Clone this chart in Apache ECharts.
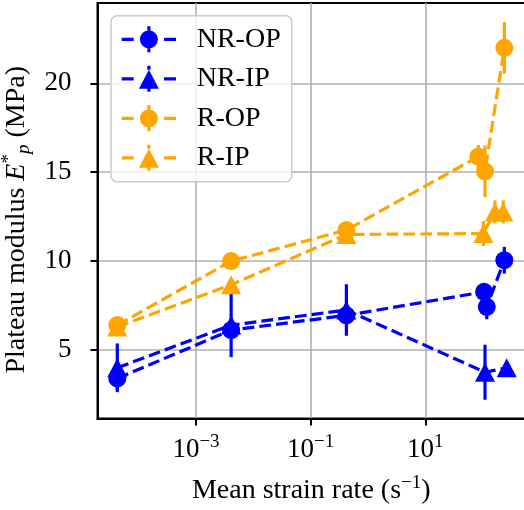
<!DOCTYPE html>
<html><head><meta charset="utf-8">
<script src="https://cdn.jsdelivr.net/npm/echarts@6/dist/echarts.min.js"></script>
<style>html,body{margin:0;padding:0;background:#fff}#chart{width:524px;height:510px}</style>
</head><body><div id="chart"></div>
<script>
const seriesNames = ['NR-OP', 'NR-IP', 'R-OP', 'R-IP'];
const nrOpRate = [4.24e-5, 4.1e-3, 0.42, 106, 118, 239];
const nrOpModulus = [3.4, 6.12, 6.95, 8.27, 7.43, 10.05];
const nrOpError = [0.65, 0.4, 0.5, 0.4, 0.7, 0.75];
const nrIpRate = [4.24e-5, 4.1e-3, 0.42, 110, 263];
const nrIpModulus = [4.0, 6.4, 7.25, 3.75, 4.0];
const nrIpError = [1.37, 1.8, 1.45, 1.55, 0.3];
const rOpRate = [4.24e-5, 4.1e-3, 0.42, 84, 110, 239];
const rOpModulus = [6.4, 10.0, 11.75, 15.88, 15.05, 22.0];
const rOpError = [0.2, 0.25, 0.25, 0.65, 1.45, 1.45];
const rIpRate = [4.24e-5, 4.1e-3, 0.42, 103, 164, 229];
const rIpModulus = [6.3, 8.67, 11.5, 11.55, 12.77, 12.77];
const rIpError = [0.2, 0.3, 0.2, 0.7, 0.65, 0.65];
const xTickValues = [1e-3, 1e-1, 1e1];
const xTickExponents = ['\u22123', '\u22121', '1'];
const yTickValues = [5, 10, 15, 20];

const FONT = "'Liberation Serif', 'Times New Roman', serif";
const BLUE = '#0000ff', ORANGE = '#ffa500';
const circleIcon = 'path://M0 11.35h12v3.3h-12z M42.3 11.35h12v3.3h-12z M25.6 0h3.2v4h-3.2z M25.6 22h3.2v4h-3.2z M18.2 13a9 9 0 1 0 18 0a9 9 0 1 0 -18 0z';
const triIcon = 'path://M0 11.35h12v3.3h-12z M42.3 11.35h12v3.3h-12z M25.6 0h3.2v4h-3.2z M25.6 23h3.2v3h-3.2z M27.2 4L37.2 23L17.2 23z';

const groups = [
  {name: seriesNames[0], rate: nrOpRate, mod: nrOpModulus, err: nrOpError, color: BLUE, symbol: 'circle', size: 18},
  {name: seriesNames[1], rate: nrIpRate, mod: nrIpModulus, err: nrIpError, color: BLUE, symbol: 'triangle', size: [20, 19]},
  {name: seriesNames[2], rate: rOpRate, mod: rOpModulus, err: rOpError, color: ORANGE, symbol: 'circle', size: 18},
  {name: seriesNames[3], rate: rIpRate, mod: rIpModulus, err: rIpError, color: ORANGE, symbol: 'triangle', size: [20, 19]}
];

const series = [];
groups.forEach(g => {
  series.push({
    type: 'line', name: g.name,
    data: g.rate.map((r, i) => [r, g.mod[i]]),
    symbol: g.symbol, symbolSize: g.size, showSymbol: true, showAllSymbol: true,
    itemStyle: {color: g.color, borderWidth: 0},
    lineStyle: {color: g.color, width: 3.2, type: [11.8, 5.1]},
    emphasis: {disabled: true}, silent: true
  });
  series.push({
    type: 'custom', name: g.name,
    data: g.rate.map((r, i) => [r, g.mod[i], g.err[i]]),
    encode: {x: 0, y: 1},
    itemStyle: {color: g.color},
    silent: true,
    renderItem: (params, api) => {
      const x = api.value(0), y = api.value(1), e = api.value(2);
      const p1 = api.coord([x, y + e]);
      const p2 = api.coord([x, y - e]);
      return {type: 'line', shape: {x1: p1[0], y1: p1[1], x2: p2[0], y2: p2[1]},
        style: {stroke: g.color, lineWidth: 3.2}};
    }
  });
});

const xMin = Math.pow(10, -4.718), xMax = Math.pow(10, 2.739);
const chart = echarts.init(document.getElementById('chart'), null, {renderer: 'canvas'});
chart.setOption({
  animation: false,
  backgroundColor: '#fff',
  grid: {left: 97.5, top: 3, right: -1, bottom: 91.5, show: true, borderColor: '#000', borderWidth: 2,
    containLabel: false, outerBoundsMode: 'none'},
  legend: {
    orient: 'vertical', left: 111, top: 15.7,
    padding: [9.6, 11, 10, 10.7], itemGap: 11.5, itemWidth: 54.3, itemHeight: 26,
    backgroundColor: 'rgba(255,255,255,0.8)', borderColor: '#cccccc', borderWidth: 1.5, borderRadius: 6,
    textStyle: {fontFamily: FONT, fontSize: 28, lineHeight: 26, color: '#000', padding: [0, 0, 0, 15.7]},
    data: [
      {name: seriesNames[0], icon: circleIcon},
      {name: seriesNames[1], icon: triIcon},
      {name: seriesNames[2], icon: circleIcon},
      {name: seriesNames[3], icon: triIcon}
    ],
    selectedMode: false
  },
  xAxis: {
    type: 'log', logBase: 10, min: xMin, max: xMax,
    axisLine: {show: true, lineStyle: {color: '#000', width: 2}},
    axisTick: {show: true, customValues: xTickValues, length: 7, lineStyle: {color: '#000', width: 2}},
    minorTick: {show: false}, minorSplitLine: {show: false},
    splitLine: {show: true, lineStyle: {color: '#b0b0b0', width: 1.6}},
    axisLabel: {
      customValues: xTickValues, margin: 14, color: '#000',
      formatter: v => {
        const i = xTickValues.findIndex(t => Math.abs(Math.log10(t) - Math.log10(v)) < 1e-6);
        return '{b|10}{s|' + xTickExponents[i] + '}';
      },
      rich: {
        b: {fontFamily: FONT, fontSize: 27, lineHeight: 34, color: '#000'},
        s: {fontFamily: FONT, fontSize: 19, lineHeight: 19, verticalAlign: 'top', color: '#000'}
      }
    },
    name: 'Mean strain rate (s{sup|\u22121})', nameLocation: 'middle', nameGap: 55,
    nameTextStyle: {fontFamily: FONT, fontSize: 28, color: '#000', lineHeight: 34,
      rich: {sup: {fontFamily: FONT, fontSize: 19, lineHeight: 19, verticalAlign: 'top', color: '#000'}}}
  },
  yAxis: {
    type: 'value', min: 1.147, max: 24.52,
    axisLine: {show: true, lineStyle: {color: '#000', width: 2}},
    axisTick: {show: true, customValues: yTickValues, length: 7, lineStyle: {color: '#000', width: 2}},
    splitLine: {show: true, lineStyle: {color: '#b0b0b0', width: 1.6}},
    axisLabel: {customValues: yTickValues, margin: 26, color: '#000', fontFamily: FONT, fontSize: 27},
    name: 'Plateau modulus {i|E}{sup|*}{sub|p} (MPa)', nameLocation: 'middle', nameRotate: 90, nameGap: 64,
    nameTextStyle: {fontFamily: FONT, fontSize: 28, color: '#000', lineHeight: 34, padding: [0, 18, 0, 0],
      rich: {
        i: {fontFamily: FONT, fontSize: 28, fontStyle: 'italic', lineHeight: 34, color: '#000'},
        sup: {fontFamily: FONT, fontSize: 19, lineHeight: 19, verticalAlign: 'top', color: '#000'},
        sub: {fontFamily: FONT, fontSize: 19, lineHeight: 19, verticalAlign: 'bottom', fontStyle: 'italic', color: '#000'}
      }}
  },
  series: series
});
</script></body></html>
